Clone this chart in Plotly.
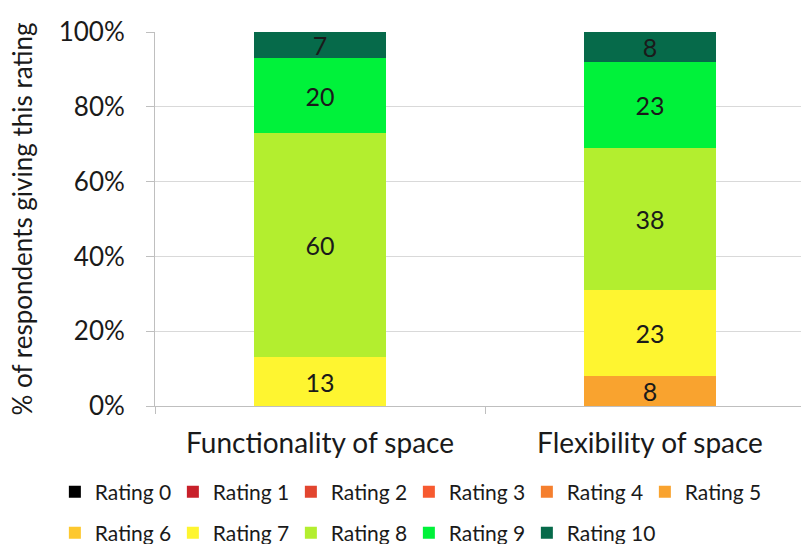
import plotly.graph_objects as go

categories = ["Functionality of space", "Flexibility of space"]
ratings = ["Rating 0", "Rating 1", "Rating 2", "Rating 3", "Rating 4", "Rating 5",
           "Rating 6", "Rating 7", "Rating 8", "Rating 9", "Rating 10"]
# percentage of respondents per rating, one list per category
functionality = [0, 0, 0, 0, 0, 0, 0, 13, 60, 20, 7]
flexibility = [0, 0, 0, 0, 0, 8, 0, 23, 38, 23, 8]
colors = ["#000000", "#c8202a", "#e2452f", "#f75a30", "#f57f2e", "#f9a32f",
          "#fdc82e", "#fef530", "#b3ee2f", "#00f23a", "#066a4a"]
y_ticks = [0, 20, 40, 60, 80, 100]

FONT = "Lato"
INK = "#1a1a1a"

# legend rows: 0-5 on the first row, 6-9 on the second, 10 in its own box
def legend_for(i):
    if i < 6:
        return "legend"
    if i < 10:
        return "legend2"
    return "legend3"

fig = go.Figure()
for i, name in enumerate(ratings):
    vals = [functionality[i], flexibility[i]]
    fig.add_trace(go.Bar(
        x=categories,
        y=vals,
        name=name,
        marker=dict(color=colors[i], line=dict(width=0)),
        text=[str(v) if v else "" for v in vals],
        textposition="inside",
        insidetextanchor="middle",
        textangle=0,
        textfont=dict(family=FONT, size=25, color=INK),
        hoverinfo="skip",
        legend=legend_for(i),
    ))

legend_common = dict(
    orientation="h", xanchor="left", yanchor="middle",
    xref="paper", yref="paper",
    traceorder="normal",
    font=dict(family=FONT, size=21, color=INK),
    itemclick=False, itemdoubleclick=False,
    bgcolor="rgba(0,0,0,0)",
)
plot_w = 646
entry_step = 118
legend_x0 = -0.155

fig.update_layout(
    barmode="stack",
    bargap=0.6,
    width=801,
    height=544,
    margin=dict(l=155, r=0, t=32, b=138, autoexpand=False),
    paper_bgcolor="#ffffff",
    plot_bgcolor="#ffffff",
    font=dict(family=FONT, color=INK),
    uniformtext=dict(minsize=25, mode="show"),
    xaxis=dict(
        range=[-0.5, 1.4576],
        showline=True, linecolor="#bfbfbf", linewidth=1,
        ticks="outside", ticklen=7, tickcolor="#bfbfbf",
        tickson="boundaries",
        tickfont=dict(family=FONT, size=28, color=INK),
        ticklabelstandoff=12,
        showgrid=False,
    ),
    yaxis=dict(
        range=[0, 100],
        tickvals=y_ticks,
        ticktext=[f"{v}%" for v in y_ticks],
        showline=True, linecolor="#bfbfbf", linewidth=1,
        ticks="outside", ticklen=8, tickcolor="#bfbfbf",
        tickfont=dict(family=FONT, size=26, color=INK),
        ticklabelstandoff=16,
        showgrid=True, gridcolor="#d9d9d9", gridwidth=1,
        zeroline=False,
        title=dict(text="% of respondents giving this rating",
                   font=dict(family=FONT, size=26, color=INK),
                   standoff=18),
    ),
    legend=dict(legend_common, x=legend_x0, y=-0.23,
                entrywidth=73, entrywidthmode="pixels"),
    legend2=dict(legend_common, x=legend_x0, y=-0.34,
                 entrywidth=73, entrywidthmode="pixels"),
    legend3=dict(legend_common, x=legend_x0 + 4 * entry_step / plot_w, y=-0.34),
    showlegend=True,
)

fig.write_html("out.html")
